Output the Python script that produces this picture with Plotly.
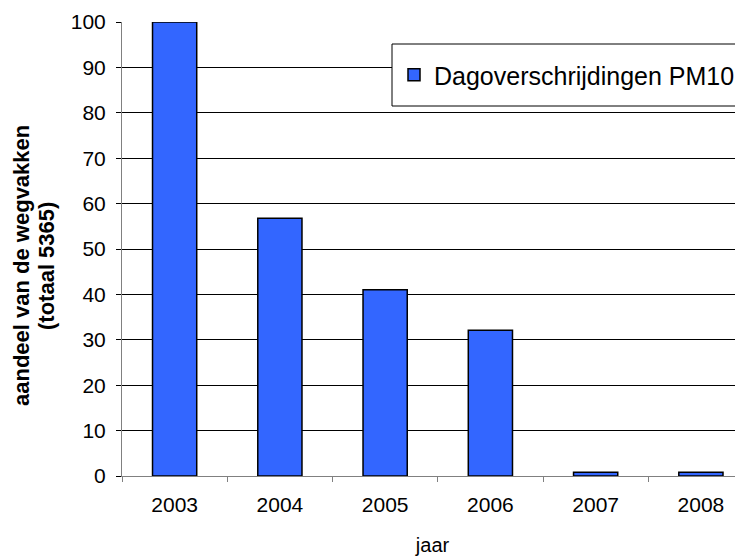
import plotly.graph_objects as go

years = ["2003", "2004", "2005", "2006", "2007", "2008"]
values = [100, 56.8, 41, 32.1, 0.8, 0.8]
series_name = "Dagoverschrijdingen PM10"
y_ticks = [0, 10, 20, 30, 40, 50, 60, 70, 80, 90, 100]
y_title_lines = ["aandeel van de wegvakken", "(totaal 5365)"]

FONT = "Liberation Sans, Arial, sans-serif"

# the page body adds an 8px margin, so figure coords = screen coords - 8
OFF = 8
W, H = 743 - OFF, 558 - OFF
ml, mr, mt, mb = 122 - OFF, 0, 22 - OFF, 82
PW, PH = W - ml - mr, H - mt - mb


def px(xs):
    return (xs - OFF - ml) / PW


def py(ys):
    return (H - mb - (ys - OFF)) / PH


fig = go.Figure()
fig.add_trace(go.Bar(
    x=years, y=values, name=series_name,
    marker=dict(color="#3366FF", line=dict(color="#000000", width=1.5)),
    showlegend=True,
))

title_x = [21, 46]
annotations = [
    dict(
        text="<b>" + line + "</b>",
        xref="paper", yref="paper",
        x=px(xc), y=py(266),
        xanchor="center", yanchor="middle",
        textangle=-90, showarrow=False,
        font=dict(size=22, family=FONT, color="black"),
    )
    for line, xc in zip(y_title_lines, title_x)
]

fig.update_layout(
    width=W, height=H,
    margin=dict(l=ml, r=mr, t=mt, b=mb, autoexpand=False),
    paper_bgcolor="white", plot_bgcolor="white",
    bargap=0.58,
    font=dict(family=FONT, color="black", size=21),
    showlegend=True,
    legend=dict(
        x=px(394), xanchor="left",
        y=py(75), yanchor="middle",
        bgcolor="rgba(0,0,0,0)", borderwidth=0,
        font=dict(size=25, family=FONT),
    ),
    xaxis=dict(
        type="category", range=[-0.5, 5.4],
        showline=True, linecolor="#808080", linewidth=1,
        ticks="outside", ticklen=5, tickcolor="#808080",
        showgrid=False, tickson="boundaries",
        tickfont=dict(size=21), ticklabelstandoff=10,
        title=dict(text="jaar", font=dict(size=20), standoff=22),
    ),
    yaxis=dict(
        range=[0, 100], tickvals=y_ticks,
        showline=True, linecolor="#808080", linewidth=1,
        ticks="outside", ticklen=5, tickcolor="#000000",
        showgrid=True, gridcolor="#000000", gridwidth=1,
        zeroline=False,
        tickfont=dict(size=21), ticklabelstandoff=6,
    ),
    shapes=[dict(
        type="rect", xref="paper", yref="paper", layer="above",
        x0=px(392), x1=1.1, y0=py(106), y1=py(44),
        fillcolor="white", line=dict(color="black", width=1),
    )],
    annotations=annotations,
)

fig.write_html("out.html")
